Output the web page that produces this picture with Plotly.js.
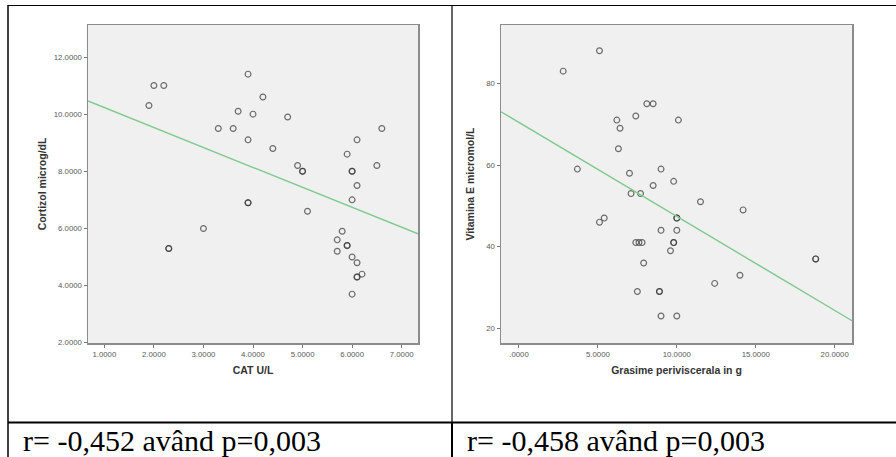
<!DOCTYPE html>
<html>
<head>
<meta charset="utf-8">
<script src="https://cdn.plot.ly/plotly-3.0.1.min.js"></script>
<style>
  html, body { margin: 0; padding: 0; background: #fff; }
  #chart { width: 896px; height: 457px; }
</style>
</head>
<body>
<div id="chart"></div>
<script>
// ---------- Data ----------
// Left chart: CAT U/L vs Cortizol microg/dL
const catX = [1.9, 2.0, 2.2, 2.3, 2.3, 3.0, 3.3, 3.6, 3.7, 3.9, 3.9, 3.9, 3.9, 4.0, 4.2, 4.4, 4.7, 4.9, 5.0, 5.0, 5.1,
              5.7, 5.7, 5.8, 5.9, 5.9, 5.9, 6.0, 6.0, 6.0, 6.0, 6.0, 6.1, 6.1, 6.1, 6.1, 6.1, 6.2, 6.5, 6.6];
const cortizolY = [10.3, 11.0, 11.0, 5.3, 5.3, 6.0, 9.5, 9.5, 10.1, 11.4, 9.1, 6.9, 6.9, 10.0, 10.6, 8.8, 9.9, 8.2, 8.0, 8.0, 6.6,
                   5.6, 5.2, 5.9, 8.6, 5.4, 5.4, 8.0, 8.0, 7.0, 5.0, 3.7, 9.1, 7.5, 4.8, 4.3, 4.3, 4.4, 8.2, 9.5];
// Fit line of the left chart (values at the two ends of the x range)
const cortizolFitX = [0.67, 7.33];
const cortizolFitY = [10.46, 5.81];

// Right chart: Grasime periviscerala in g vs Vitamina E micromol/L
const grasimeX = [2.8, 5.1, 3.7, 6.2, 6.4, 6.3, 7.4, 8.1, 8.5, 10.1, 7.0, 9.0, 7.1, 7.7, 8.5, 9.8, 11.5, 14.2, 5.1, 5.4,
                  10.0, 10.0, 9.0, 10.0, 7.4, 7.6, 7.8, 9.8, 9.8, 9.6, 7.9, 18.8, 18.8, 14.0, 12.4, 7.5, 8.9, 8.9, 9.0, 10.0];
const vitaminaY = [83, 88, 59, 71, 69, 64, 72, 75, 75, 71, 58, 59, 53, 53, 55, 56, 51, 49, 46, 47,
                   47, 47, 44, 44, 41, 41, 41, 41, 41, 39, 36, 37, 37, 33, 31, 29, 29, 29, 23, 23];
const vitaminaFitX = [-1.14, 21.1];
const vitaminaFitY = [73.05, 21.86];

// Tick labels
const leftXTicks = [1, 2, 3, 4, 5, 6, 7];
const leftXTickText = ['1.0000', '2.0000', '3.0000', '4.0000', '5.0000', '6.0000', '7.0000'];
const leftYTicks = [2, 4, 6, 8, 10, 12];
const leftYTickText = ['2.0000', '4.0000', '6.0000', '8.0000', '10.0000', '12.0000'];
const rightXTicks = [0, 5, 10, 15, 20];
const rightXTickText = ['.0000', '5.0000', '10.0000', '15.0000', '20.0000'];
const rightYTicks = [20, 40, 60, 80];
const rightYTickText = ['20', '40', '60', '80'];

// Texts
const leftXTitle = 'CAT U/L';
const leftYTitle = 'Cortizol microg/dL';
const rightXTitle = 'Grasime periviscerala in g';
const rightYTitle = 'Vitamina E micromol/L';
const leftCaption = 'r= -0,452 având p=0,003';
const rightCaption = 'r= -0,458 având p=0,003';

// ---------- Drawing ----------
const W = 896, H = 457;
const px = v => v / W;
const py = v => 1 - v / H;

const markerStyle = {
  symbol: 'circle-open',
  size: 5.8,
  color: 'rgba(55,55,55,0.72)',
  line: { width: 1.2 }
};
const fitStyle = { color: '#7fca8e', width: 1.4 };

const traces = [
  { x: catX, y: cortizolY, type: 'scatter', mode: 'markers', marker: markerStyle,
    xaxis: 'x', yaxis: 'y', hoverinfo: 'x+y', showlegend: false },
  { x: cortizolFitX, y: cortizolFitY, type: 'scatter', mode: 'lines', line: fitStyle,
    xaxis: 'x', yaxis: 'y', hoverinfo: 'skip', showlegend: false },
  { x: grasimeX, y: vitaminaY, type: 'scatter', mode: 'markers', marker: markerStyle,
    xaxis: 'x2', yaxis: 'y2', hoverinfo: 'x+y', showlegend: false },
  { x: vitaminaFitX, y: vitaminaFitY, type: 'scatter', mode: 'lines', line: fitStyle,
    xaxis: 'x2', yaxis: 'y2', hoverinfo: 'skip', showlegend: false }
];

const tickFont = { family: 'Liberation Sans, Arial, sans-serif', size: 7.8, color: '#5a5a5a' };
const titleFont = { family: 'Liberation Sans, Arial, sans-serif', size: 10.5, color: '#333', weight: 'bold' };

function axisBase(extra) {
  return Object.assign({
    showgrid: false, zeroline: false,
    showline: true, linecolor: '#8c8c8c', linewidth: 1.5, mirror: true,
    ticks: 'outside', ticklen: 3, tickwidth: 1, tickcolor: '#777',
    tickmode: 'array', tickfont: tickFont, fixedrange: true
  }, extra);
}

const layout = {
  width: W, height: H,
  margin: { l: 0, r: 0, t: 0, b: 0 },
  paper_bgcolor: '#ffffff',
  plot_bgcolor: '#f0f0f0',
  xaxis: axisBase({ domain: [px(88), px(418)], range: [0.67, 7.33], anchor: 'y',
    tickvals: leftXTicks, ticktext: leftXTickText,
    title: { text: leftXTitle, font: titleFont, standoff: 9 } }),
  yaxis: axisBase({ domain: [py(343), py(25)], range: [1.99, 13.12], anchor: 'x',
    tickvals: leftYTicks, ticktext: leftYTickText,
    title: { text: leftYTitle, font: titleFont, standoff: 5 } }),
  xaxis2: axisBase({ domain: [px(501), px(852)], range: [-1.14, 21.1], anchor: 'y2',
    tickvals: rightXTicks, ticktext: rightXTickText,
    title: { text: rightXTitle, font: titleFont, standoff: 9 } }),
  yaxis2: axisBase({ domain: [py(343), py(25)], range: [16.4, 94.3], anchor: 'x2',
    tickvals: rightYTicks, ticktext: rightYTickText,
    title: { text: rightYTitle, font: titleFont, standoff: 9 } }),
  shapes: [
    // table borders
    { type: 'line', xref: 'paper', yref: 'paper', x0: px(8), x1: 1, y0: py(5.5), y1: py(5.5),
      line: { color: '#000', width: 1.2 } },
    { type: 'line', xref: 'paper', yref: 'paper', x0: px(8), x1: px(8), y0: py(5), y1: 0,
      line: { color: '#000', width: 1.5 } },
    { type: 'line', xref: 'paper', yref: 'paper', x0: px(452), x1: px(452), y0: py(5), y1: py(422),
      line: { color: '#000', width: 1.2 } },
    { type: 'line', xref: 'paper', yref: 'paper', x0: px(452), x1: px(452), y0: py(422), y1: 0,
      line: { color: '#000', width: 2 } },
    { type: 'line', xref: 'paper', yref: 'paper', x0: px(8), x1: 1, y0: py(422.5), y1: py(422.5),
      line: { color: '#000', width: 2 } }
  ],
  annotations: [
    { xref: 'paper', yref: 'paper', x: px(21), y: py(440.5), xanchor: 'left', yanchor: 'middle',
      text: leftCaption, showarrow: false,
      font: { family: 'Liberation Serif, Times New Roman, serif', size: 30, color: '#000' } },
    { xref: 'paper', yref: 'paper', x: px(465), y: py(440.5), xanchor: 'left', yanchor: 'middle',
      text: rightCaption, showarrow: false,
      font: { family: 'Liberation Serif, Times New Roman, serif', size: 30, color: '#000' } }
  ]
};

Plotly.newPlot('chart', traces, layout, { displayModeBar: false, staticPlot: true });
</script>
</body>
</html>
